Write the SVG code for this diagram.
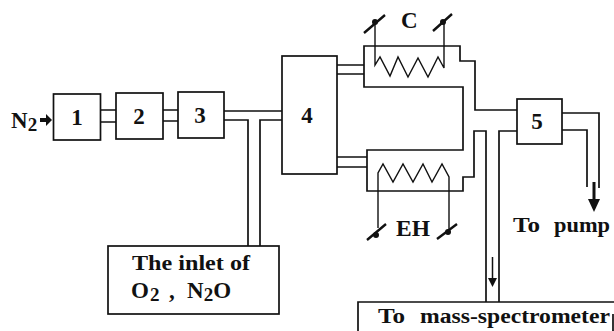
<svg xmlns="http://www.w3.org/2000/svg" width="614" height="331" viewBox="0 0 614 331">
<style>
.b{fill:none;stroke:#111;stroke-width:1.7;stroke-linejoin:miter}
.w{fill:none;stroke:#111;stroke-width:1.4}
.s{fill:none;stroke:#111;stroke-width:2.4}
.k{fill:#111}
text{font-family:"Liberation Serif",serif;font-weight:bold;fill:#111}
.n{font-size:23px;text-anchor:middle}
.l{font-size:20px}
.o{font-size:23px}
</style>
<rect width="614" height="331" fill="#fff"/>
<g id="connectors">
<path class="b" d="M100.500 110H116M100.500 122H116M163 110H178M163 121H178"/>
<path class="b" d="M224 111H282M224 120H248V246M282 120H260V246"/>
<path class="b" d="M337 65H364M337 74H364M337 157H367M337 167H367"/>
<path class="b" d="M364 74V46H460V61H475V110H517"/>
<path class="b" d="M364 74V87H463V150H367V191H463V177H474V131H486V302"/>
<path class="b" d="M499 302V131H517"/>
<path class="b" d="M562 113H599V188M562 130H587V187"/>
<path class="b" d="M40 120H47" style="stroke-width:4"/>
<polygon class="k" points="46,114 52,120 46,126"/>
<path class="b" d="M492.500 257V280" style="stroke-width:1.500"/>
<polygon class="k" points="488,278 497,278 492.500,287"/>
<path class="b" d="M594 182V202" style="stroke-width:3"/>
<polygon class="k" points="588,199 600,199 594,212"/>
</g>
<g id="node-1"><rect class="b" x="53.500" y="94" width="47" height="46"/><text class="n" x="77" y="125">1</text></g>
<g id="node-2"><rect class="b" x="116" y="93" width="47" height="46"/><text class="n" x="139" y="124">2</text></g>
<g id="node-3"><rect class="b" x="178" y="92" width="46" height="46"/><text class="n" x="200" y="123">3</text></g>
<g id="node-4"><rect class="b" x="282" y="56" width="55" height="118"/><text class="n" x="307" y="123">4</text></g>
<g id="node-5"><rect class="b" x="517" y="99" width="45" height="45"/><text class="n" x="537" y="129">5</text></g>
<g id="node-c">
<path class="w" d="M375 22V65L380 57 390 76 398 57 408 77 418 58 428 77 438 57 444 68V22"/>
<path class="s" d="M364 33L385 15M433 31L452 14"/>
<circle class="k" cx="375" cy="22" r="3"/><circle class="k" cx="443" cy="22" r="3"/>
<text class="o" x="401" y="28">C</text>
</g>
<g id="node-eh">
<path class="w" d="M378 228V173L383 164 393 182 403 164 413 182 423 164 432 182 442 164 449 177V230"/>
<path class="s" d="M367 240L386 224M437 239L457 224"/>
<circle class="k" cx="376" cy="235" r="3"/><circle class="k" cx="448" cy="232" r="3"/>
<text class="o" x="396" y="236" textLength="34" lengthAdjust="spacingAndGlyphs">EH</text>
</g>
<g id="node-inlet">
<rect class="b" x="108" y="246" width="171" height="68"/>
<text class="l" x="132" y="270" textLength="118" lengthAdjust="spacingAndGlyphs">The inlet of</text>
<text class="o" x="131" y="298">O<tspan dy="3" font-size="19" dx="1">2</tspan><tspan x="169" y="298">,</tspan><tspan x="187" y="298">N</tspan><tspan dy="3" font-size="19">2</tspan><tspan dy="-3">O</tspan></text>
</g>
<g id="node-mass">
<path class="b" d="M358 331V302H614M613 314V331"/>
<text class="l" x="378" y="323" textLength="27" lengthAdjust="spacingAndGlyphs">To</text>
<text class="l" x="420" y="323" textLength="190" lengthAdjust="spacingAndGlyphs">mass-spectrometer</text>
</g>
<g id="node-n2"><text class="o" x="11" y="128">N<tspan dy="3" font-size="19">2</tspan></text></g>
<g id="node-pump"><text class="l" x="513" y="232" textLength="27" lengthAdjust="spacingAndGlyphs">To</text><text class="l" x="554" y="232" textLength="56" lengthAdjust="spacingAndGlyphs">pump</text></g>
</svg>
